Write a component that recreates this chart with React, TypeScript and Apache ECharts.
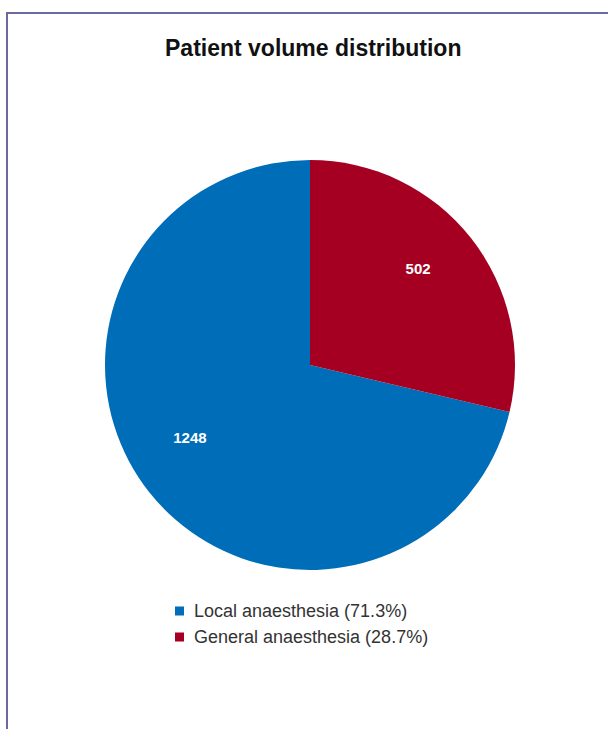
import React, { useEffect, useRef } from "react";
import * as echarts from "echarts";

const categories = ["Local anaesthesia", "General anaesthesia"];
const values = [1248, 502];
const colors = ["#006db8", "#a50021"];
const titleText = "Patient volume distribution";

export default function App() {
  const ref = useRef<HTMLDivElement>(null);
  useEffect(() => {
    if (!ref.current) return;
    const chart = echarts.init(ref.current, undefined, { renderer: "svg" });
    const total = values.reduce((a, b) => a + b, 0);
    const data = categories.map((name, i) => ({
      name,
      value: values[i],
      itemStyle: { color: colors[i] },
    }));
    const labelOffsets = [
      [-6, -18],
      [-6, -6],
    ];
    chart.setOption({
      animation: false,
      title: {
        text: titleText,
        left: 160,
        top: 31,
        textStyle: {
          fontFamily: "Liberation Sans, Arial, sans-serif",
          fontSize: 23,
          fontWeight: "bold",
          color: "#111",
        },
      },
      legend: {
        orient: "vertical",
        left: 170,
        top: 597,
        icon: "rect",
        itemWidth: 9,
        itemHeight: 9,
        itemGap: 8,
        data: categories,
        textStyle: {
          fontFamily: "Liberation Sans, Arial, sans-serif",
          fontSize: 18,
          color: "#333",
          padding: [0, 0, 0, 5],
        },
        formatter: (name: string) => {
          const i = categories.indexOf(name);
          return `${name} (${((values[i] / total) * 100).toFixed(1)}%)`;
        },
      },
      series: [
        {
          type: "pie",
          center: [310, 365],
          radius: 205,
          startAngle: 90,
          clockwise: false,
          label: { show: false },
          labelLine: { show: false },
          data,
          silent: true,
        },
        {
          type: "pie",
          center: [310, 365],
          radius: [80, 205],
          startAngle: 90,
          clockwise: false,
          silent: true,
          legendHoverLink: false,
          label: {
            show: true,
            position: "inside",
            formatter: "{c}",
            color: "#fff",
            fontFamily: "Liberation Sans, Arial, sans-serif",
            fontSize: 15,
            fontWeight: "bold",
          },
          labelLine: { show: false },
          data: categories.map((name, i) => ({
            name: name + " ",
            value: values[i],
            itemStyle: { color: "rgba(0,0,0,0)" },
            label: { offset: labelOffsets[i] },
          })),
        },
      ],
    });
    return () => chart.dispose();
  }, []);
  return (
    <div style={{ position: "fixed", left: 0, top: 0, width: 608, height: 729, background: "#fff" }}>
      <div
        style={{
          position: "absolute",
          left: 6,
          top: 12,
          right: 0,
          bottom: 0,
          borderLeft: "2px solid #6c69a0",
          borderTop: "2px solid #6c69a0",
        }}
      />
      <div ref={ref} style={{ position: "absolute", left: 0, top: 0, width: 608, height: 729 }} />
    </div>
  );
}
